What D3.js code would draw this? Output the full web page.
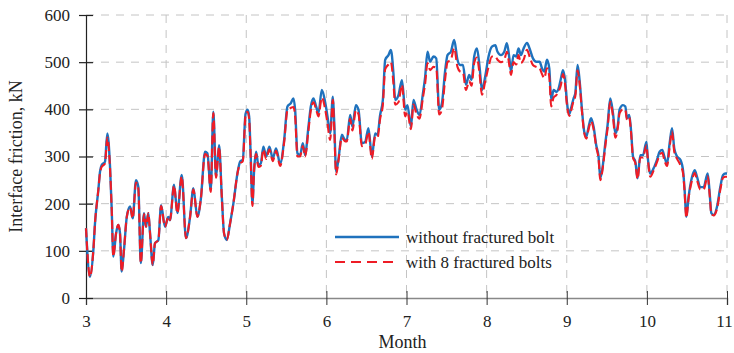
<!DOCTYPE html>
<html>
<head>
<meta charset="utf-8">
<script src="https://cdn.jsdelivr.net/npm/d3@7"></script>
<style>
  body { margin: 0; background: #fff; }
  svg text { font-family: "Liberation Serif", "Times New Roman", serif; fill: #222; }
</style>
</head>
<body>
<div id="chart"></div>
<script>
// time axis in months
const months = [3.000,3.050,3.092,3.113,3.154,3.175,3.196,3.237,3.266,3.300,3.321,3.341,3.375,3.403,3.424,3.445,3.474,3.509,3.550,3.583,
  3.624,3.653,3.684,3.724,3.749,3.778,3.799,3.833,3.861,3.903,3.937,3.986,4.027,4.048,4.099,4.140,4.195,4.248,4.299,4.340,
  4.390,4.432,4.486,4.515,4.557,4.589,4.623,4.661,4.695,4.723,4.757,4.798,4.840,4.890,4.923,4.957,4.991,5.017,5.036,5.054,
  5.077,5.098,5.123,5.151,5.181,5.214,5.248,5.289,5.331,5.372,5.423,5.473,5.514,5.556,5.589,5.610,5.639,5.672,5.706,5.734,
  5.776,5.806,5.839,5.872,5.901,5.943,5.985,6.014,6.047,6.081,6.097,6.122,6.150,6.193,6.234,6.255,6.297,6.325,6.368,6.401,
  6.443,6.484,6.525,6.568,6.609,6.638,6.671,6.705,6.734,6.775,6.805,6.837,6.859,6.900,6.943,6.984,7.012,7.055,7.087,7.121,
  7.162,7.205,7.233,7.262,7.295,7.337,7.371,7.408,7.442,7.483,7.512,7.554,7.595,7.636,7.670,7.705,7.742,7.783,7.811,7.845,
  7.879,7.912,7.942,7.983,8.024,8.066,8.108,8.136,8.179,8.220,8.253,8.286,8.304,8.336,8.370,8.398,8.428,8.461,8.504,8.536,
  8.578,8.619,8.661,8.691,8.719,8.753,8.782,8.806,8.836,8.870,8.898,8.928,8.953,8.981,9.002,9.032,9.053,9.085,9.107,9.135,
  9.160,9.190,9.218,9.244,9.273,9.303,9.335,9.368,9.397,9.419,9.453,9.481,9.510,9.543,9.577,9.606,9.635,9.660,9.702,9.731,
  9.752,9.780,9.802,9.827,9.856,9.884,9.918,9.952,9.994,10.010,10.043,10.084,10.126,10.159,10.193,10.218,10.252,10.284,10.314,10.342,
  10.377,10.418,10.451,10.471,10.492,10.521,10.564,10.597,10.626,10.667,10.708,10.759,10.784,10.805,10.834,10.876,10.917,10.951,10.980,11.000];

const withoutBolt = [148,45,102,160,229,268,282,289,349,278,187,88,137,155,138,56,102,172,194,169,
  250,236,74,180,151,180,138,70,116,123,197,151,172,165,240,180,261,127,172,233,
  172,208,310,307,229,395,257,324,215,137,123,158,201,264,289,293,390,399,385,310,
  201,271,310,282,285,321,300,321,296,317,285,335,406,413,423,399,307,303,328,303,
  363,406,423,406,392,441,415,385,349,427,377,268,293,346,335,335,388,363,409,399,
  328,331,360,300,349,346,388,420,505,515,526,476,420,430,462,399,409,363,420,402,
  388,434,469,522,501,512,508,399,413,483,515,522,547,505,494,494,452,473,462,512,
  529,490,441,470,512,533,536,522,515,522,540,505,480,515,512,529,515,529,541,529,
  508,501,501,487,480,505,487,420,441,437,444,466,483,459,416,390,402,423,434,494,
  462,399,353,342,363,381,363,324,300,254,285,328,367,423,392,349,363,400,409,406,
  381,388,356,300,289,254,303,303,331,300,264,275,293,310,314,300,285,328,360,317,
  300,293,271,229,172,215,257,271,257,235,235,264,222,180,176,194,236,261,264,264];

const withBolts = [148,45,102,160,229,265,278,285,340,275,187,88,137,155,138,56,102,172,192,169,
  245,232,74,178,151,180,138,70,116,123,195,151,172,165,238,180,258,127,172,230,
  172,208,305,302,225,392,255,320,215,137,123,158,201,264,285,290,386,395,380,305,
  195,271,305,278,280,315,295,315,290,312,280,330,398,403,405,385,300,300,322,300,
  355,398,415,400,385,425,400,370,335,420,365,262,290,340,332,332,380,355,398,390,
  322,325,352,295,342,340,380,410,485,495,500,455,410,415,452,385,395,358,410,392,
  380,425,455,498,483,490,488,389,400,465,500,505,530,490,480,478,441,460,450,498,
  510,475,431,460,490,512,512,505,500,505,522,490,473,500,495,515,498,505,526,512,
  494,490,487,475,466,487,470,406,425,430,438,452,475,450,410,386,396,418,428,483,
  455,395,350,338,358,375,358,320,295,250,280,322,360,416,385,340,358,392,400,399,
  378,383,352,298,286,252,298,298,324,298,257,270,288,303,308,292,280,320,353,310,
  295,282,265,225,170,212,250,265,250,230,230,258,218,178,175,190,230,255,257,257];

const monthTicks = [3, 4, 5, 6, 7, 8, 9, 10, 11];
const forceTicks = [0, 100, 200, 300, 400, 500, 600];
const seriesNames = ["without fractured bolt", "with 8 fractured bolts"];

const W = 734, H = 353;
const margin = {top: 15, right: 7, bottom: 55, left: 86};
const width = W - margin.left - margin.right,
      height = H - margin.top - margin.bottom;
const serif = '"Liberation Serif", "Times New Roman", serif';

const svg = d3.select("#chart").append("svg")
  .attr("width", W)
  .attr("height", H);

const g = svg.append("g")
  .attr("transform", `translate(${margin.left},${margin.top})`);

const x = d3.scaleLinear().domain([3, 11]).range([0, width]);
const y = d3.scaleLinear().domain([0, 600]).range([height, 0]);

// dashed grid
g.append("g").selectAll("line")
  .data(forceTicks.filter(d => d > 0))
  .enter().append("line")
  .attr("x1", 0).attr("x2", width)
  .attr("y1", d => y(d)).attr("y2", d => y(d))
  .attr("stroke", "#c4c4c4").attr("stroke-width", 1)
  .attr("stroke-dasharray", "8,7");

g.append("g").selectAll("line")
  .data(monthTicks.filter(d => d > 3))
  .enter().append("line")
  .attr("x1", d => x(d)).attr("x2", d => x(d))
  .attr("y1", 0).attr("y2", height)
  .attr("stroke", "#c4c4c4").attr("stroke-width", 1)
  .attr("stroke-dasharray", "8,7");

// axes
const xAxis = g.append("g")
  .attr("transform", `translate(0,${height})`)
  .call(d3.axisBottom(x).tickValues(monthTicks).tickSize(7).tickPadding(10).tickFormat(d3.format("d")));
xAxis.attr("font-family", serif).attr("font-size", 17);
xAxis.select(".domain").attr("stroke", "#888").attr("stroke-width", 1.5);
xAxis.selectAll(".tick line").attr("stroke", "#333").attr("y1", -7);
xAxis.selectAll("text")
  .style("font-family", serif).style("font-size", "17px").attr("fill", "#222")
  .attr("dx", d => d === 11 ? -3 : 0);

const yAxis = g.append("g")
  .call(d3.axisLeft(y).tickValues(forceTicks).tickSize(7).tickPadding(9));
yAxis.attr("font-family", serif).attr("font-size", 17);
yAxis.select(".domain").attr("stroke", "#222").attr("stroke-width", 1.2);
yAxis.selectAll(".tick line").attr("stroke", "#222").attr("x1", 7).attr("stroke-width", 1.2);
yAxis.selectAll("text").style("font-family", serif).style("font-size", "17px").attr("fill", "#222");

g.append("text")
  .attr("x", width / 2 - 4)
  .attr("y", height + 50)
  .attr("text-anchor", "middle")
  .style("font-size", "18px")
  .text("Month");

svg.append("text")
  .attr("transform", `translate(22,${margin.top + height / 2}) rotate(-90)`)
  .attr("text-anchor", "middle")
  .style("font-size", "18px")
  .text("Interface friction, kN");

// lines
const line = d3.line()
  .x((d, i) => x(months[i]))
  .y(d => y(d))
  .curve(d3.curveMonotoneX);

g.append("path")
  .datum(withoutBolt)
  .attr("fill", "none")
  .attr("stroke", "#1f72bd")
  .attr("stroke-width", 2.4)
  .attr("stroke-linejoin", "round")
  .attr("d", line);

g.append("path")
  .datum(withBolts)
  .attr("fill", "none")
  .attr("stroke", "#ee1c25")
  .attr("stroke-width", 2.1)
  .attr("stroke-dasharray", "9,4")
  .attr("d", line);

// legend
const legend = svg.append("g").attr("transform", "translate(335,237)");
const styles = [
  {color: "#1f72bd", dash: null, w: 2.4},
  {color: "#ee1c25", dash: "10,6", w: 2.1}
];
seriesNames.forEach(function(name, i) {
  const row = legend.append("g").attr("transform", `translate(0,${i * 25})`);
  row.append("line")
    .attr("x1", 0).attr("x2", 64)
    .attr("y1", 0).attr("y2", 0)
    .attr("stroke", styles[i].color)
    .attr("stroke-width", styles[i].w)
    .attr("stroke-dasharray", styles[i].dash);
  row.append("text")
    .attr("x", 71).attr("y", 0)
    .attr("dy", "0.33em")
    .style("font-size", "17px")
    .text(name);
});
</script>
</body>
</html>
